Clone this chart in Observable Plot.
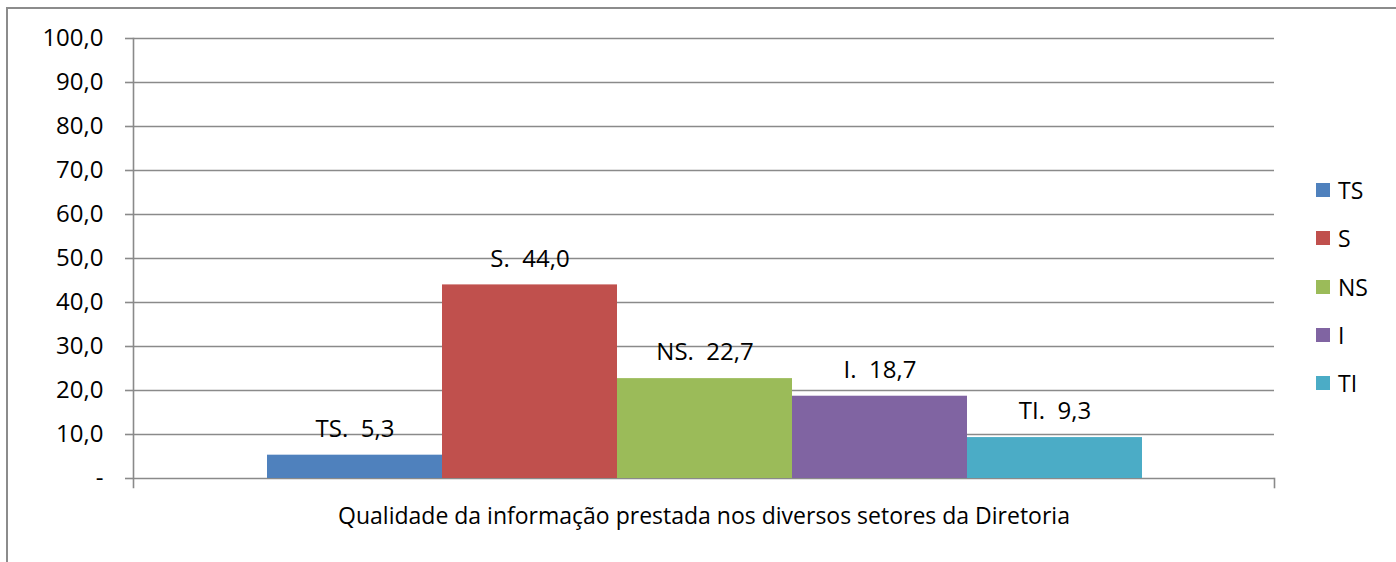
<!DOCTYPE html>
<html><head><meta charset="utf-8">
<script src="https://cdn.jsdelivr.net/npm/d3@7"></script>
<script src="https://cdn.jsdelivr.net/npm/@observablehq/plot@0.6"></script>
<style>
body{margin:0;background:#fff;}
#wrap{position:relative;width:1396px;height:562px;overflow:hidden;font-family:"Open Sans",sans-serif;background:#fff;}
#border{position:absolute;left:6px;top:7px;width:1500px;height:700px;border-left:2px solid #8c8c8c;border-top:2px solid #8c8c8c;pointer-events:none;}
#legend{position:absolute;left:1316px;top:166px;font-size:23px;color:#000;}
#legend .item{display:flex;align-items:center;height:48.3px;}
#legend .sw{width:14px;height:14px;margin-right:8px;}
</style>
</head><body>
<div id="wrap"><div id="chart"></div><div id="legend"></div><div id="border"></div></div>
<script>
const categories = ["TS", "S", "NS", "I", "TI"];
const values = [5.3, 44.0, 22.7, 18.7, 9.3];
const colors = ["#4F81BD", "#C0504D", "#9BBB59", "#8064A2", "#4BACC6"];
const yTicks = [0, 10, 20, 30, 40, 50, 60, 70, 80, 90, 100];
const xTitle = "Qualidade da informação prestada nos diversos setores da Diretoria";

const fmt = v => v === 0 ? "-" : d3.format(".1f")(v).replace(".", ",");
const data = categories.map((c, i) => ({cat: c, value: values[i], label: `${c}.\u00a0 ${fmt(values[i])}`}));

const W = 1396, H = 562, mL = 133, mR = 122, mT = 38, mB = 84;
const grid = "#8a8a8a";

const plot = Plot.plot({
  width: W, height: H,
  marginLeft: mL, marginRight: mR, marginTop: mT, marginBottom: mB,
  style: {fontFamily: "'Open Sans', sans-serif", fontSize: "23px", color: "#000", background: "#fff"},
  x: {domain: categories, padding: 0, insetLeft: 132, insetRight: 131, axis: null},
  y: {domain: [0, 100], ticks: yTicks, tickFormat: fmt, label: null},
  color: {domain: categories, range: colors},
  marks: [
    Plot.ruleY(yTicks, {stroke: grid, strokeWidth: 1.6}),
    Plot.barY(data, {x: "cat", y: "value", fill: "cat"}),
    Plot.frame({anchor: "left", stroke: grid, strokeWidth: 1.6, insetBottom: -9}),
    Plot.frame({anchor: "right", stroke: grid, strokeWidth: 1.6, insetTop: H - mT - mB, insetBottom: -9}),
    Plot.axisY({ticks: yTicks, tickFormat: fmt, tickSize: 8, tickPadding: 22, stroke: grid, strokeWidth: 1.6, strokeOpacity: 1, label: null, fontSize: 24}),
    Plot.text(data, {x: "cat", y: "value", text: "label", dy: -26, fontSize: 24, fill: "#000"}),
    Plot.text([xTitle], {frameAnchor: "bottom", dy: 45, fontSize: 23, fill: "#000"})
  ]
});
document.getElementById("chart").appendChild(plot);

const legend = document.getElementById("legend");
categories.forEach((c, i) => {
  const it = document.createElement("div");
  it.className = "item";
  it.innerHTML = `<div class="sw" style="background:${colors[i]}"></div><span>${c}</span>`;
  legend.appendChild(it);
});
</script>
</body></html>
